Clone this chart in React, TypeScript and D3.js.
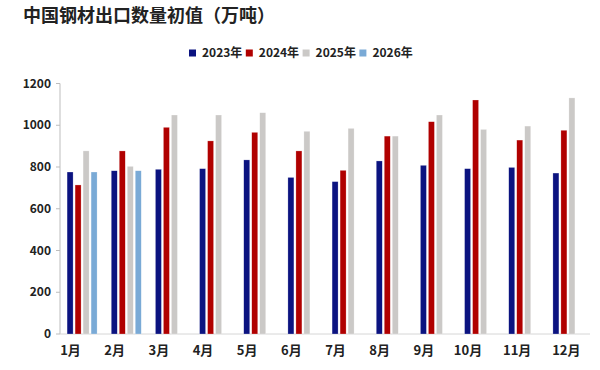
import { scaleBand, scaleLinear } from "d3";

const months = ["1月", "2月", "3月", "4月", "5月", "6月", "7月", "8月", "9月", "10月", "11月", "12月"];
const years = ["2023年", "2024年", "2025年", "2026年"];
const colors = ["#0b1380", "#b00000", "#cbc9c7", "#7aaad6"];

const v2023 = [776, 782, 789, 792, 834, 750, 730, 829, 808, 792, 798, 771];
const v2024 = [714, 877, 990, 925, 966, 877, 784, 948, 1017, 1121, 929, 976];
const v2025 = [877, 803, 1049, 1049, 1060, 971, 985, 948, 1049, 980, 996, 1131];
const v2026 = [776, 782];

const series = [v2023, v2024, v2025, v2026];
const yTicks = [0, 200, 400, 600, 800, 1000, 1200];

const font = "'Noto Sans CJK SC', 'Noto Sans', sans-serif";

export default function App() {
  const width = 600;
  const height = 370;
  const left = 60;
  const right = 590;
  const top = 83.5;
  const bottom = 334;

  const x = scaleBand().domain(months).range([left, right]);
  const slot = 8;
  const barW = 6;
  const y = scaleLinear().domain([0, 1200]).range([bottom, top]);

  return (
    <svg
      width={width}
      height={height}
      style={{ position: "absolute", left: 0, top: 0, background: "#fff", fontFamily: font }}
    >
      <text x={23} y={22} fontSize={18} fontWeight={700} fill="#222">
        中国钢材出口数量初值（万吨）
      </text>

      {years.map((yr, i) => (
        <g key={yr} transform={`translate(${189 + i * 56.8},0)`}>
          <rect x={0} y={49.5} width={7} height={7} fill={colors[i]} />
          <text x={13} y={57} fontSize={12} fontWeight={700} fill="#222">
            {yr}
          </text>
        </g>
      ))}

      <line x1={left} x2={left} y1={top} y2={bottom} stroke="#bdbdbd" />
      <line x1={left} x2={right} y1={bottom} y2={bottom} stroke="#d6d6d6" />
      {yTicks.map((t) => (
        <g key={t}>
          <line x1={left - 4} x2={left} y1={y(t)} y2={y(t)} stroke="#bdbdbd" />
          <text x={51} y={y(t)} dy="0.35em" textAnchor="end" fontSize={12} fontWeight={700} fill="#222">
            {t}
          </text>
        </g>
      ))}

      {months.map((m, mi) => {
        const center = (x(m) ?? 0) + x.bandwidth() / 2;
        const start = center - (slot * 4) / 2 + (slot - barW) / 2;
        return (
          <g key={m}>
            {series.map((s, si) =>
              s[mi] === undefined ? null : (
                <rect
                  key={si}
                  x={start + si * slot}
                  y={y(s[mi])}
                  width={barW}
                  height={bottom - y(s[mi])}
                  fill={colors[si]}
                  stroke="#fff"
                  strokeOpacity={0.5}
                  strokeWidth={0.5}
                />
              )
            )}
            <text
              x={(x(m) ?? 0) + 10.5 + Math.max(0, mi - 9) * 5}
              y={355}
              textAnchor="middle"
              fontSize={13}
              fontWeight={700}
              fill="#222"
            >
              {m}
            </text>
          </g>
        );
      })}
    </svg>
  );
}
